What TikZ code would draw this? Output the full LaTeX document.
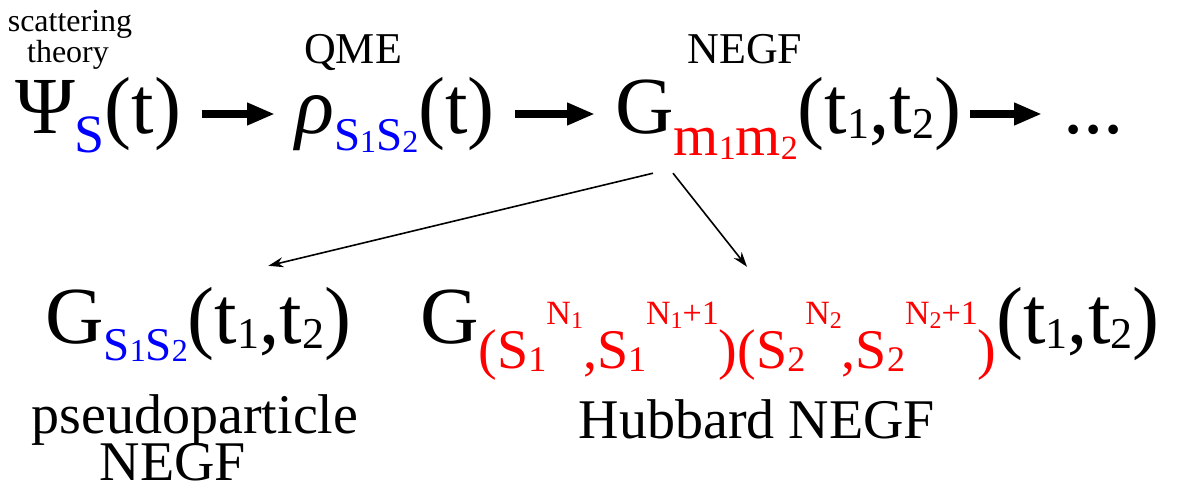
\documentclass[tikz,border=0pt]{standalone}
\usepackage{fontspec}
\setmainfont{Liberation Serif}
\usetikzlibrary{arrows.meta}
\definecolor{idxblue}{RGB}{0,0,255}
\definecolor{idxred}{RGB}{255,0,0}
\newcommand\fsz[1]{\fontsize{#1}{#1}\selectfont}
\newcommand\dn[3]{\raisebox{-#1}{\fsz{#2}#3}}
\newcommand\up[3]{\raisebox{#1}{\fsz{#2}#3}}
\newcommand\targ{(t\dn{5pt}{44}{1},t\dn{5pt}{44}{2})}
\newcommand\sss{S\dn{1pt}{32}{1}S\dn{1pt}{32}{2}}
\tikzset{
  formula/.style={inner sep=0pt, anchor=base west, font=\fsz{81}, text height=56pt, text depth=16pt},
  method/.style={inner sep=0pt, anchor=base},
  bigarrow/.style={line width=8pt, -{Triangle[length=28pt,width=21pt]}},
  thinarrow/.style={line width=1.6pt, -{Stealth[length=15pt,width=10pt]}}
}
\begin{document}
\begin{tikzpicture}[x=1pt,y=-1pt]
\useasboundingbox (0,0) rectangle (1177,492);
% top row
\node[formula] (psi) at (15,134) {Ψ\dn{18pt}{54}{\color{idxblue}S}(t)};
\node[formula] (rho) at (295,134) {\textit{ρ}\dn{17pt}{47}{\color{idxblue}\sss}(t)};
\node[formula] (gm) at (615,134) {G\dn{21pt}{58}{\color{idxred}m\dn{4pt}{34}{1}m\dn{4pt}{34}{2}}\targ};
\node[formula] (dots) at (1063,134) {...};
\node[method, font=\fsz{32}] (scat) at (70,32) {scattering};
\node[method, font=\fsz{32}] (theo) at (68,63) {theory};
\node[method, font=\fsz{44}] (qme) at (353,64) {QME};
\node[method, font=\fsz{44}] (negf) at (745,64) {NEGF};
% bottom row
\node[formula] (gss) at (45,343) {G\dn{17pt}{47}{\color{idxblue}\sss}\targ};
\node[formula] (ghub) at (420,343) {G\dn{25pt}{56}{\color{idxred}(S\dn{3pt}{36}{1}\up{44pt}{34}{N\dn{4pt}{24}{1}},S\dn{3pt}{36}{1}\up{44pt}{34}{N\dn{4pt}{24}{1}+1})(S\dn{3pt}{36}{2}\up{44pt}{34}{N\dn{4pt}{24}{2}},S\dn{3pt}{36}{2}\up{44pt}{34}{N\dn{4pt}{24}{2}+1})}\targ};
\node[method, font=\fsz{56}] (pseudo) at (195,433) {pseudoparticle};
\node[method, font=\fsz{56}] (pnegf) at (173,480) {NEGF};
\node[method, font=\fsz{56}] (hub) at (757,438) {Hubbard NEGF};
% connectors
\draw[bigarrow, shorten <=20pt, shorten >=20pt] (psi) -- (rho);
\draw[bigarrow, shorten <=20pt, shorten >=20pt] (rho) -- (gm);
\draw[bigarrow, shorten <=9pt, shorten >=21pt] (gm) -- (dots);
\draw[thinarrow] ([shift={(38,23)}]gm.south west) -- ([shift={(-83,-21)}]gss.north east);
\draw[thinarrow] ([shift={(58,23)}]gm.south west) -- ([shift={(327,-20)}]ghub.north west);
\end{tikzpicture}
\end{document}
